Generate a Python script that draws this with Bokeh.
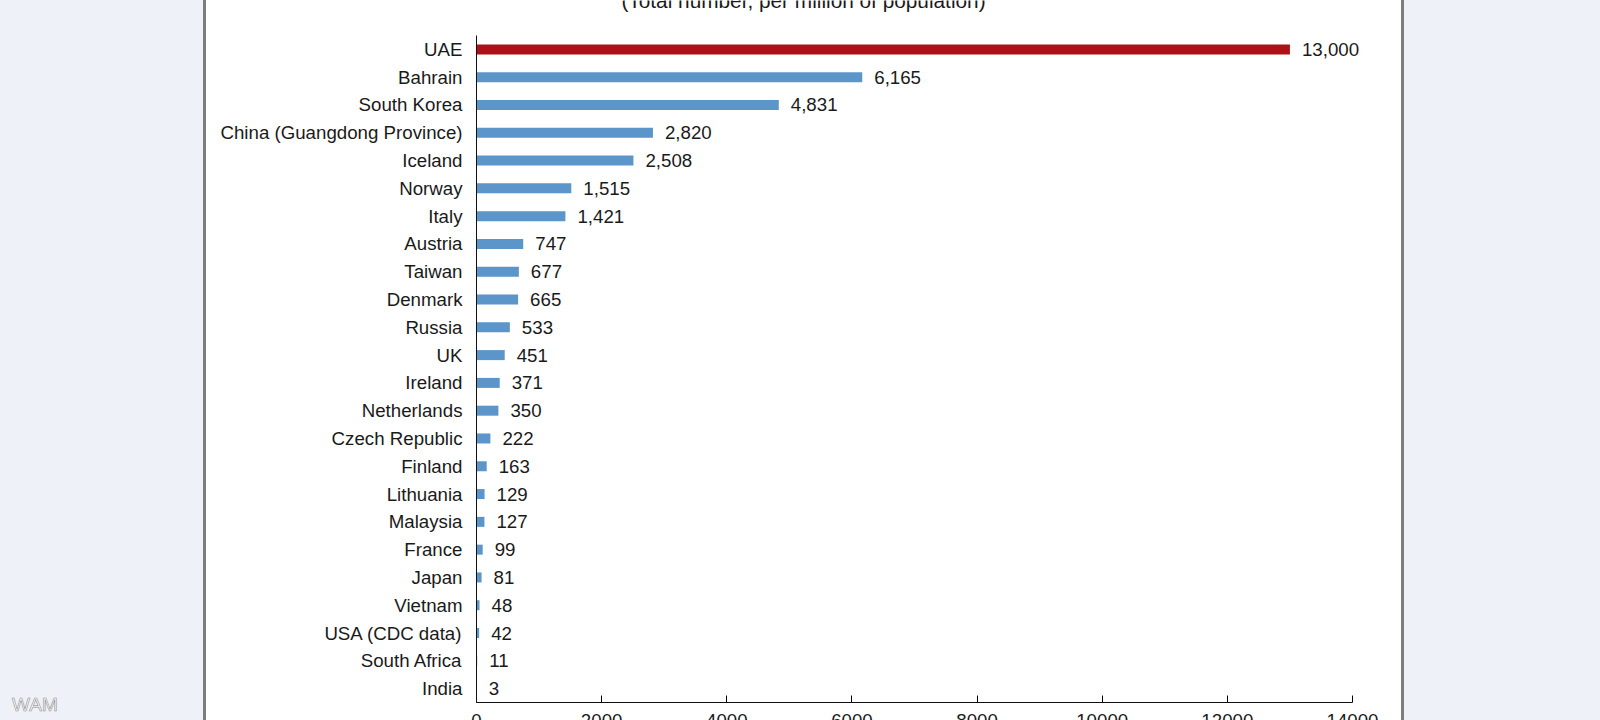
from bokeh.plotting import figure
from bokeh.models import Range1d, FixedTicker, Spacer, ColumnDataSource
from bokeh.layouts import row
from bokeh.embed import file_html
from bokeh.resources import INLINE
from bokeh.core.properties import value

countries = ["UAE", "Bahrain", "South Korea", "China (Guangdong Province)", "Iceland",
             "Norway", "Italy", "Austria", "Taiwan", "Denmark", "Russia", "UK", "Ireland",
             "Netherlands", "Czech Republic", "Finland", "Lithuania", "Malaysia", "France",
             "Japan", "Vietnam", "USA (CDC data)", "South Africa", "India"]
tests = [13000, 6165, 4831, 2820, 2508, 1515, 1421, 747, 677, 665, 533, 451, 371,
         350, 222, 163, 129, 127, 99, 81, 48, 42, 11, 3]
x_ticks = [0, 2000, 4000, 6000, 8000, 10000, 12000, 14000]
title_text = "(Total number, per million of population)"

BG = "#eef2f8"
FONT = "Liberation Sans"
FS = "18.7px"

n = len(countries)
ypos = [n - 1 - i for i in range(n)]
colors = ["#ad1016" if c == "UAE" else "#5b95ca" for c in countries]
labels = [f"{v:,}" for v in tests]
src = ColumnDataSource(dict(y=ypos, v=tests, c=colors, lab=labels))

fig_w = 1195
axis_px = 270          # y-axis position from figure's left edge
px_per_unit = 876 / 14000.0
band_px = 667 / 24.0
top_px = 35            # frame top of bar area
bottom_px = 18         # space below the x axis

p = figure(width=fig_w, height=720, output_backend="svg", toolbar_location=None,
           x_range=Range1d(-axis_px / px_per_unit, (fig_w - axis_px) / px_per_unit),
           y_range=Range1d(-0.5 - bottom_px / band_px, n - 0.5 + top_px / band_px),
           min_border_left=0, min_border_right=0, min_border_top=0, min_border_bottom=0,
           background_fill_color="white", border_fill_color="white")
p.outline_line_color = None
p.grid.visible = False

p.hbar(y="y", left=0, right="v", height=0.36, fill_color="c", line_color=None, source=src)
p.text(x="v", y="y", text="lab", x_offset=12, text_baseline="middle", text_align="left",
       text_font=value(FONT), text_font_size=FS, text_color="#1a1a1a", source=src)

# title (cut at the top edge, as in the reference)
p.text(x=[(803 - 476) / px_per_unit], y=[n - 0.5 + 35 / band_px], text=[title_text],
       text_align="center", text_baseline="alphabetic", text_font=value(FONT),
       text_font_size="20.8px", text_color="#1a1a1a")

# y axis
yax = p.yaxis[0]
yax.fixed_location = 0
yax.ticker = FixedTicker(ticks=ypos)
yax.major_label_overrides = {yy: c for yy, c in zip(ypos, countries)}
yax.major_tick_out = 0
yax.major_tick_in = 0
yax.minor_tick_out = 0
yax.minor_tick_in = 0
yax.major_label_standoff = 14
yax.major_label_text_font = FONT
yax.major_label_text_font_size = FS
yax.major_label_text_color = "#1a1a1a"
yax.axis_line_color = "#111111"
yax.bounds = (-0.5, n - 0.5)

# x axis
xax = p.xaxis[0]
xax.ticker = FixedTicker(ticks=x_ticks)
xax.fixed_location = -0.5
xax.bounds = (0, 14000)
xax.major_tick_in = 7
xax.major_tick_out = 0
xax.minor_tick_in = 0
xax.minor_tick_out = 0
xax.major_label_standoff = 11
xax.major_label_text_font = FONT
xax.major_label_text_font_size = FS
xax.major_label_text_color = "#1a1a1a"
xax.axis_line_color = "#111111"

left = Spacer(width=203, height=720, styles={"background-color": BG})
gl = Spacer(width=3, height=720, styles={"background-color": "#7d7d7d"})
gr = Spacer(width=3, height=720, styles={"background-color": "#7d7d7d"})
right = Spacer(width=1600 - 203 - 3 - fig_w - 3, height=720, styles={"background-color": BG})

lay = row(left, gl, p, gr, right, spacing=0)

html = file_html(lay, INLINE)
html = html.replace("<body>", '<body style="margin:0;background:%s">' % BG, 1)
wm = ('<div style="position:absolute;left:12px;top:694px;font-family:\'Liberation Sans\';'
      'font-size:19px;color:white;-webkit-text-stroke:0.6px #8a8a8a;">WAM</div>')
html = html.replace("</body>", wm + "</body>", 1)
open("out.html", "w").write(html)
